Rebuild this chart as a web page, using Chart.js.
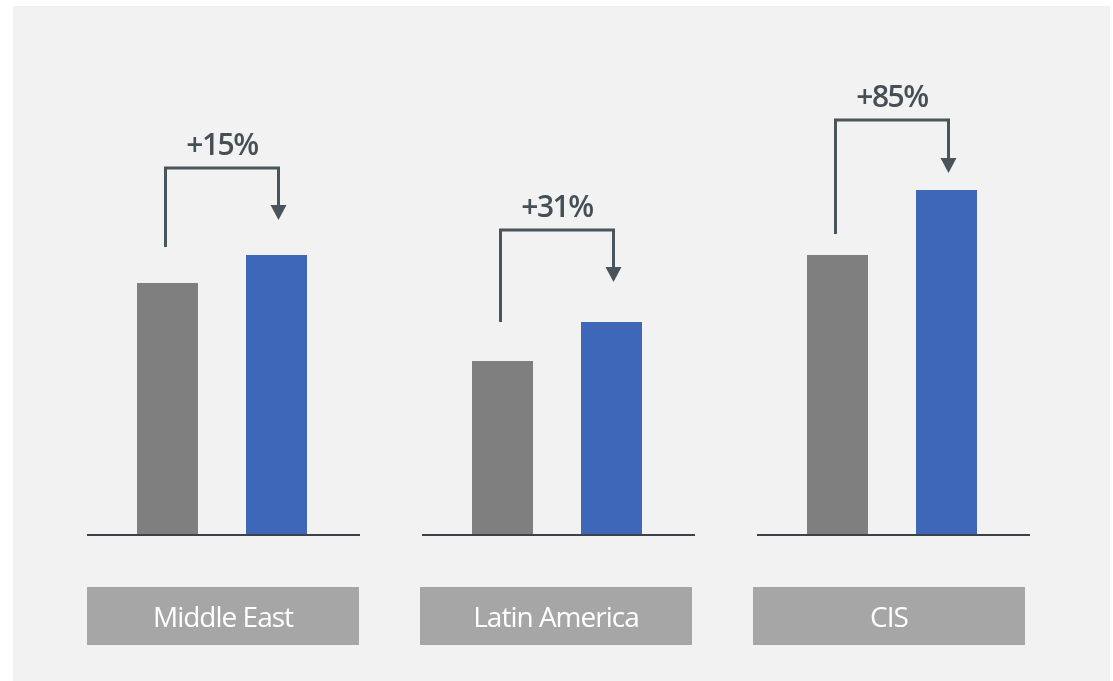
<!DOCTYPE html>
<html lang="en">
<head>
    <meta charset="UTF-8">
    <title>Regional growth</title>
    <style>
        html, body { margin: 0; padding: 0; background: #ffffff; }
        #wrap { position: absolute; left: 0; top: 0; width: 1113px; height: 681px; }
    </style>
</head>
<body>
    <div id="wrap">
        <canvas id="myChart" width="1113" height="681"></canvas>
    </div>
    <script src="https://cdn.jsdelivr.net/npm/chart.js"></script>
    <script>
        // regions and values (index units)
        const v_regions = ['Middle East', 'Latin America', 'CIS'];
        const v_before = [251, 173, 279];
        const v_after = [279, 212, 344];
        const v_growth = ['+15%', '+31%', '+85%'];

        // arrow levels on the same y scale: start over grey bar, top bend, arrow tip
        const v_arrowFrom = [287, 212, 300];
        const v_arrowTop = [366, 304, 414];
        const v_arrowTo = [314, 252, 361];

        const c_text = '#454f56';
        const c_line = '#4a545b';

        // panel background
        const panelPlugin = {
            id: 'panel',
            beforeDraw(chart) {
                const ctx = chart.ctx;
                ctx.save();
                ctx.fillStyle = '#f2f2f2';
                ctx.fillRect(13, 6, 1097, 681 - 6);
                ctx.restore();
            }
        };

        // baselines, arrows, percentages, region boxes
        const groupPlugin = {
            id: 'groups',
            afterDatasetsDraw(chart) {
                const ctx = chart.ctx;
                const xs = chart.scales.x;
                const ys = chart.scales.y;
                const meta0 = chart.getDatasetMeta(0);
                const meta1 = chart.getDatasetMeta(1);
                const base = ys.getPixelForValue(0);
                ctx.save();
                for (let i = 0; i < v_regions.length; i++) {
                    const cx = xs.getPixelForValue(i);

                    // base line per group
                    ctx.strokeStyle = '#3b4249';
                    ctx.lineWidth = 2;
                    ctx.beginPath();
                    ctx.moveTo(cx - 135, base + 1);
                    ctx.lineTo(cx + 138, base + 1);
                    ctx.stroke();

                    // elbow arrow from grey bar to blue bar
                    const x1 = meta0.data[i].x - 2;
                    const x2 = meta1.data[i].x + 2;
                    const yFrom = ys.getPixelForValue(v_arrowFrom[i]);
                    const yTop = ys.getPixelForValue(v_arrowTop[i]);
                    const yTo = ys.getPixelForValue(v_arrowTo[i]);
                    ctx.strokeStyle = c_line;
                    ctx.lineWidth = 3;
                    ctx.lineJoin = 'miter';
                    ctx.beginPath();
                    ctx.moveTo(x1, yFrom);
                    ctx.lineTo(x1, yTop);
                    ctx.lineTo(x2, yTop);
                    ctx.lineTo(x2, yTo - 12);
                    ctx.stroke();
                    ctx.fillStyle = c_line;
                    ctx.beginPath();
                    ctx.moveTo(x2 - 8, yTo - 15);
                    ctx.lineTo(x2 + 8, yTo - 15);
                    ctx.lineTo(x2, yTo);
                    ctx.closePath();
                    ctx.fill();

                    // growth label
                    ctx.fillStyle = c_text;
                    ctx.font = '600 30px "Open Sans", "Noto Sans", sans-serif';
                    ctx.letterSpacing = '-1.5px';
                    ctx.textAlign = 'center';
                    ctx.textBaseline = 'middle';
                    ctx.fillText(v_growth[i], (x1 + x2) / 2, yTop - 22);

                    // region box
                    const bx = cx - 135 - i * 2;
                    ctx.fillStyle = '#a6a6a6';
                    ctx.fillRect(bx, 587, 272, 58);
                    ctx.fillStyle = '#ffffff';
                    ctx.font = '28px "Open Sans", "Noto Sans", sans-serif';
                    ctx.letterSpacing = '-1px';
                    ctx.fillText(v_regions[i], bx + 136, 619);
                }
                ctx.restore();
            }
        };

        const ctx = document.getElementById('myChart');

        new Chart(ctx, {
            type: 'bar',
            data: {
                labels: v_regions,
                datasets: [{
                    label: 'Before',
                    data: v_before,
                    backgroundColor: '#7f7f7f',
                    categoryPercentage: 0.6507,
                    barPercentage: 0.5596
                }, {
                    label: 'After',
                    data: v_after,
                    backgroundColor: '#3e68b7',
                    categoryPercentage: 0.6507,
                    barPercentage: 0.5596
                }]
            },
            options: {
                responsive: false,
                animation: false,
                layout: {
                    padding: { left: 54.5, right: 53.5, top: 34, bottom: 147 }
                },
                scales: {
                    x: { display: false },
                    y: { display: false, min: 0, max: 500 }
                },
                plugins: {
                    legend: { display: false },
                    tooltip: { enabled: false }
                }
            },
            plugins: [panelPlugin, groupPlugin]
        });
    </script>
</body>
</html>
